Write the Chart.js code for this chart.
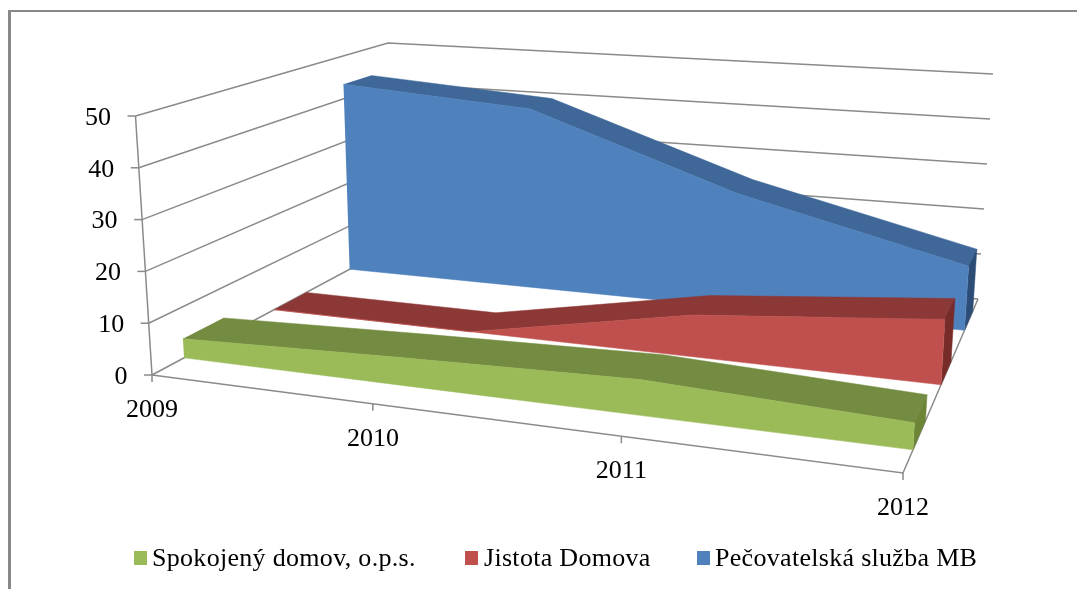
<!DOCTYPE html>
<html>
<head>
<meta charset="utf-8">
<script src="https://cdn.jsdelivr.net/npm/chart.js@4"></script>
<style>
  html, body { margin: 0; padding: 0; background: #fff; }
  #wrap { position: relative; width: 1077px; height: 589px; overflow: hidden; }
  #frame { position: absolute; left: 8px; top: 10px; width: 1069px; height: 579px;
           border-left: 3px solid #888; border-top: 2px solid #888; box-sizing: border-box; }
  canvas { position: absolute; left: 0; top: 0; }
  .key { position: absolute; top: 551px; width: 13px; height: 14px; }
  .name { position: absolute; top: 544px; font: 26px "Liberation Serif"; line-height: 28px;
          letter-spacing: 0.3px; white-space: nowrap; color: #000; }
</style>
</head>
<body>
<div id="wrap">
  <div id="frame"></div>
  <canvas id="mainChart" width="1077" height="589"></canvas>
  <div id="legend"></div>
</div>
<script>
// -- data --
const years = ["2009", "2010", "2011", "2012"];
const valueTicks = [0, 10, 20, 30, 40, 50];
const seriesNames = ["Spokojený domov, o.p.s.", "Jistota Domova", "Pečovatelská služba MB"];
const spokojeny = [3.8, 5.3, 6.6, 4.8];
const jistota = [0, 0, 8.4, 12.7];
const pecovatelska = [43.4, 40.5, 25, 13.5];

// -- colours per series: front, top, side --
const green = ["#9BBB59", "#748C41", "#6C8537"];
const red = ["#C0504D", "#8C3836", "#772C2A"];
const blue = ["#4F81BD", "#3F6899", "#2C4D75"];
const gridColor = "#8a8a8a";

// -- the 3D box as it sits on the page --
const box = {
  frontLeft: { low: [152, 375], high: [135.5, 116] },
  frontRight: { low: [903, 473], high: [919, 182] },
  backLeft: { low: [393, 246], high: [388, 43] },
  backRight: { low: [978, 299], high: [993, 74] },
};

function mix(a, b, t) {
  return [a[0] + (b[0] - a[0]) * t, a[1] + (b[1] - a[1]) * t];
}

// year index -> position along the front, later years are nearer the viewer
function along(i) {
  const t = i / (years.length - 1);
  return t / (t + 1.2 * (1 - t));
}

// u: along the years (0-1), d: depth (0-1), v: value
function project(u, d, v) {
  const low = mix(mix(box.frontLeft.low, box.frontRight.low, u), mix(box.backLeft.low, box.backRight.low, u), d);
  const high = mix(mix(box.frontLeft.high, box.frontRight.high, u), mix(box.backLeft.high, box.backRight.high, u), d);
  const p = mix(low, high, v / 50);
  return { x: p[0], y: p[1] };
}

function lineSet(points) {
  return {
    data: points,
    borderColor: gridColor,
    borderWidth: 1.5,
    pointRadius: 0,
    fill: false,
    tension: 0,
  };
}

function faceSet(points, color) {
  return {
    data: points,
    borderColor: color,
    borderWidth: 0.5,
    backgroundColor: color,
    pointRadius: 0,
    fill: "shape",
    tension: 0,
  };
}

// --- walls, floor edges and tick marks ---
function gridSets() {
  const sets = [];
  valueTicks.forEach((v) => {
    sets.push(lineSet([project(0, 0, v), project(0, 1, v), project(1, 1, v)]));
    const p = project(0, 0, v);
    sets.push(lineSet([{ x: p.x - 8, y: p.y }, p]));
  });
  sets.push(lineSet([project(0, 0, 0), project(0, 0, 50)]));
  sets.push(lineSet([project(0, 0, 0), project(1, 0, 0), project(1, 1, 0)]));
  years.forEach((y, i) => {
    const p = project(along(i), 0, 0);
    sets.push(lineSet([p, { x: p.x, y: p.y + 7 }]));
  });
  return sets;
}

// --- one ribbon: top, right side, front ---
function ribbonSets(values, near, far, colors) {
  const us = years.map((y, i) => along(i));
  const frontTop = values.map((v, i) => project(us[i], near, v));
  const backTop = values.map((v, i) => project(us[i], far, v));
  const frontLow = values.map((v, i) => project(us[i], near, 0));
  const last = values.length - 1;
  return [
    faceSet(frontTop.concat(backTop.slice().reverse()), colors[1]),
    faceSet([frontTop[last], backTop[last], project(1, far, 0), frontLow[last]], colors[2]),
    faceSet(frontTop.concat(frontLow.slice().reverse()), colors[0]),
  ];
}

// --- axis labels ---
const axisLabels = {
  id: "axisLabels",
  afterDatasetsDraw(chart) {
    const { ctx, scales } = chart;
    ctx.save();
    ctx.fillStyle = "#000";
    ctx.font = '26px "Liberation Serif"';
    ctx.textBaseline = "middle";
    ctx.textAlign = "right";
    valueTicks.forEach((v) => {
      const p = project(0, 0, v);
      ctx.fillText(String(v), scales.x.getPixelForValue(p.x) - 24.5, scales.y.getPixelForValue(p.y) + 2);
    });
    ctx.textAlign = "center";
    years.forEach((y, i) => {
      const p = project(along(i), 0, 0);
      ctx.fillText(y, scales.x.getPixelForValue(p.x), scales.y.getPixelForValue(p.y) + 35);
    });
    ctx.restore();
  },
};

// chart.js paints the first dataset last, so the nearest faces go first
const drawOrder = [
  ...gridSets(),
  ...ribbonSets(pecovatelska, 0.82, 0.93, blue),
  ...ribbonSets(jistota, 0.507, 0.64, red),
  ...ribbonSets(spokojeny, 0.133, 0.3, green),
];

new Chart(document.getElementById("mainChart").getContext("2d"), {
  type: "line",
  data: { datasets: drawOrder.reverse() },
  options: {
    responsive: false,
    animation: false,
    events: [],
    layout: { padding: 0 },
    plugins: {
      legend: { display: false },
      title: { display: false },
      tooltip: { enabled: false },
    },
    scales: {
      x: { type: "linear", min: 0, max: 1077, display: false },
      y: { type: "linear", min: 0, max: 589, reverse: true, display: false },
    },
  },
  plugins: [axisLabels],
});

// -- legend --
const legendSpots = [[134, 152], [465, 484], [697, 715]];
const legendColors = [green[0], red[0], blue[0]];
const legend = document.getElementById("legend");
seriesNames.forEach((name, i) => {
  const key = document.createElement("div");
  key.className = "key";
  key.style.left = legendSpots[i][0] + "px";
  key.style.background = legendColors[i];
  const label = document.createElement("div");
  label.className = "name";
  label.style.left = legendSpots[i][1] + "px";
  label.textContent = name;
  legend.append(key, label);
});
</script>
</body>
</html>
